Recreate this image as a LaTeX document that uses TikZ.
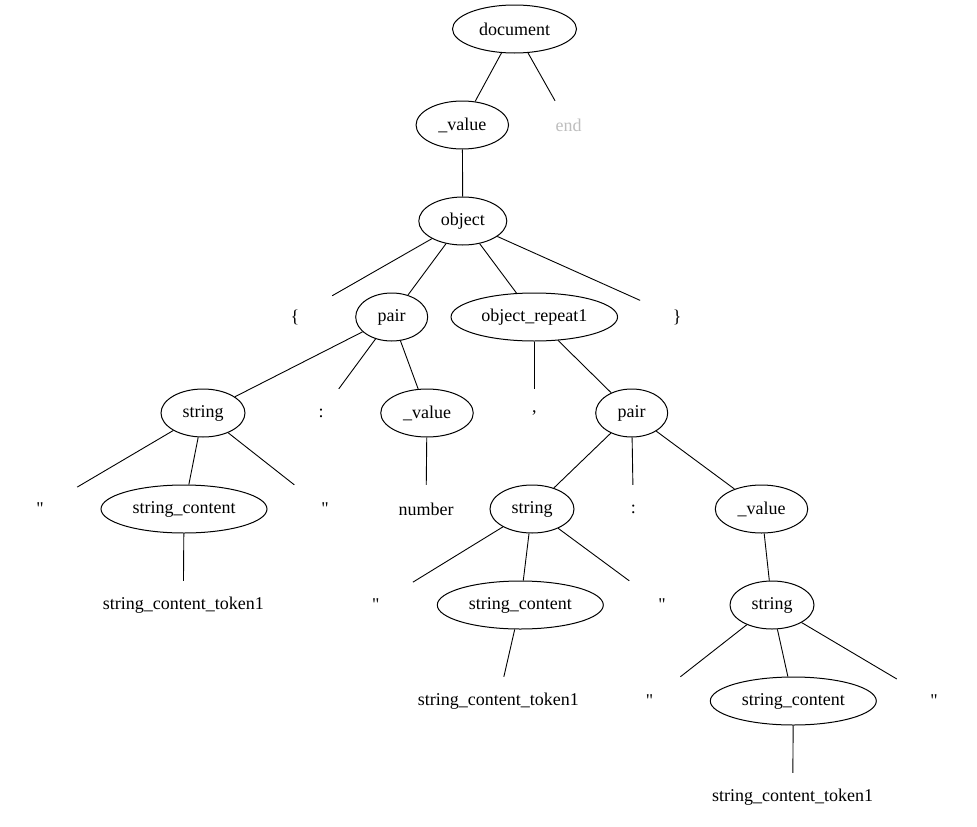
\documentclass[tikz,border=0pt]{standalone}
\usepackage{fontspec}
\setmainfont{Liberation Serif}[Ligatures=TeXOff]
\usetikzlibrary{shapes.geometric}
\definecolor{endgray}{RGB}{190,190,190}
\tikzset{
  every node/.style={font=\fontsize{18}{21}\selectfont},
  nt/.style={draw, ellipse, line width=1pt, inner sep=0pt, minimum height=48pt},
  tk/.style={rectangle, inner sep=4pt, minimum width=74pt, minimum height=48pt},
  edge/.style={line width=0.9pt},
}
\begin{document}
\begin{tikzpicture}[x=1pt,y=-1pt]
\useasboundingbox (0,0) rectangle (977,827);
% row 0
\node[nt, minimum width=124pt] (doc) at (514.5,29) {document};
% row 1
\node[nt, minimum width=92.5pt] (val1) at (462.3,125) {\_value};
\node[tk, text=endgray] (end) at (568.7,125) {end};
% row 2
\node[nt, minimum width=88pt] (obj) at (462.8,221) {object};
% row 3
\node[tk] (lbrace) at (295,317) {\{};
\node[nt, minimum width=72pt] (pair1) at (391.7,317) {pair};
\node[nt, minimum width=166.5pt] (rep) at (534.3,317) {object\_repeat1};
\node[tk] (rbrace) at (677.3,317) {\}};
% row 4
\node[nt, minimum width=84pt] (str1) at (203,413) {string};
\node[tk] (colon1) at (321,413) {:};
\node[nt, minimum width=92.5pt] (val2) at (427,413) {\_value};
\node[tk] (comma) at (534.3,413) {,};
\node[nt, minimum width=72pt] (pair2) at (631.7,413) {pair};
% row 5
\node[tk] (q1) at (40,509) {"};
\node[nt, minimum width=166pt] (sc1) at (184,509) {string\_content};
\node[tk] (q2) at (325,509) {"};
\node[tk] (num) at (426,509) {number};
\node[nt, minimum width=84pt] (str2) at (532,509) {string};
\node[tk] (colon2) at (633.3,509) {:};
\node[nt, minimum width=92.5pt] (val3) at (761.5,509) {\_value};
% row 6
\node[tk] (tok1) at (183.3,605) {string\_content\_token1};
\node[tk] (q3) at (375.7,605) {"};
\node[nt, minimum width=166pt] (sc2) at (520.3,605) {string\_content};
\node[tk] (q4) at (662,605) {"};
\node[nt, minimum width=84pt] (str3) at (772,605) {string};
% row 7
\node[tk] (tok2) at (498.3,701) {string\_content\_token1};
\node[tk] (q5) at (649.5,701) {"};
\node[nt, minimum width=166pt] (sc3) at (793.3,701) {string\_content};
\node[tk] (q6) at (934,701) {"};
% row 8
\node[tk] (tok3) at (792.7,797) {string\_content\_token1};
% edges
\draw[edge] (doc) -- (val1);
\draw[edge] (doc) -- (end);
\draw[edge] (val1) -- (obj);
\draw[edge] (obj) -- (lbrace);
\draw[edge] (obj) -- (pair1);
\draw[edge] (obj) -- (rep);
\draw[edge] (obj) -- (rbrace);
\draw[edge] (pair1) -- (str1);
\draw[edge] (pair1) -- (colon1);
\draw[edge] (pair1) -- (val2);
\draw[edge] (rep) -- (comma);
\draw[edge] (rep) -- (pair2);
\draw[edge] (str1) -- (q1);
\draw[edge] (str1) -- (sc1);
\draw[edge] (str1) -- (q2);
\draw[edge] (val2) -- (num);
\draw[edge] (sc1) -- (tok1);
\draw[edge] (pair2) -- (str2);
\draw[edge] (pair2) -- (colon2);
\draw[edge] (pair2) -- (val3);
\draw[edge] (str2) -- (q3);
\draw[edge] (str2) -- (sc2);
\draw[edge] (str2) -- (q4);
\draw[edge] (sc2) -- (tok2);
\draw[edge] (val3) -- (str3);
\draw[edge] (str3) -- (q5);
\draw[edge] (str3) -- (sc3);
\draw[edge] (str3) -- (q6);
\draw[edge] (sc3) -- (tok3);
\end{tikzpicture}
\end{document}
